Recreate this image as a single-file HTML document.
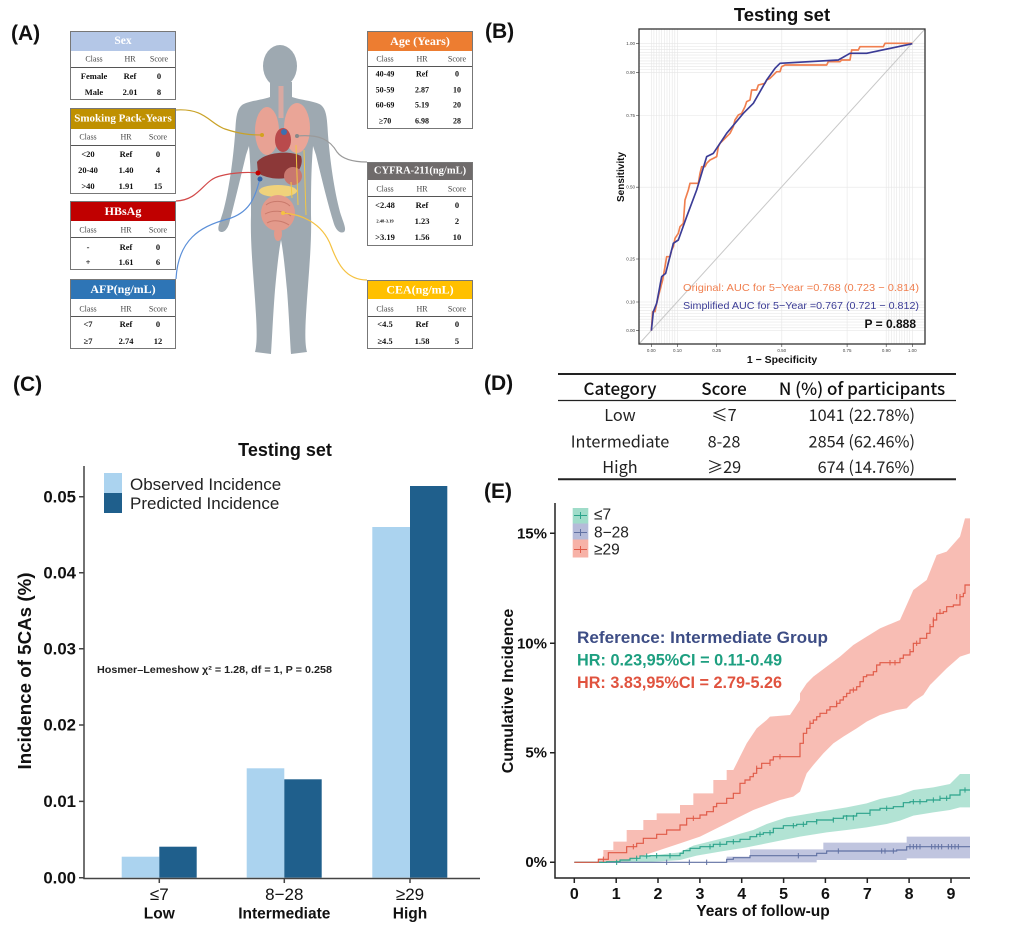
<!DOCTYPE html>
<html><head><meta charset="utf-8"><style>
html,body{margin:0;padding:0;background:#fff;}
svg{display:block;}
</style></head><body>
<svg width="1023" height="925" viewBox="0 0 1023 925" xmlns="http://www.w3.org/2000/svg" font-family="'Liberation Sans', Arial, sans-serif">
<rect width="1023" height="925" fill="#fff"/>

<!-- Panel labels -->
<g font-weight="bold" font-size="21" fill="#111">
<text x="11" y="40">(A)</text>
<text x="485" y="38">(B)</text>
<text x="13" y="391">(C)</text>
<text x="484" y="390">(D)</text>
<text x="484" y="498">(E)</text>
</g>

<!-- ============ PANEL A ============ -->
<!-- human silhouette -->
<g fill="#9ea9b1">
<ellipse cx="280" cy="66" rx="17" ry="21"/>
<path d="M270,82 L270,97 C262,100 248,101 242,105 C236,110 236,120 235,135 C233,160 229,190 223,212 C220,222 217,228 219,231 C223,234 227,230 229,224 C234,205 240,180 246,155 L249,146 C251,170 251,195 251,215 C250,245 254,280 256,315 C257,333 257,345 255,352 L271,354 C272,340 273,315 275,290 C277,268 279,250 281,240 C283,250 285,268 287,290 C289,315 290,340 291,354 L307,352 C305,345 305,333 306,315 C308,280 312,245 311,215 C311,195 311,170 313,146 L316,155 C322,180 328,205 334,224 C336,230 340,234 344,232 C347,229 343,222 340,212 C334,190 330,160 328,135 C327,120 327,110 321,105 C315,101 300,100 292,97 L292,82 Z"/>
</g>
<!-- organs -->
<rect x="278.5" y="86" width="5" height="32" fill="#d8a9a2"/>
<ellipse cx="267" cy="131" rx="12" ry="24" fill="#e8a294"/>
<ellipse cx="297" cy="128" rx="13" ry="25" fill="#eaa597"/>
<ellipse cx="283" cy="140" rx="8" ry="12" fill="#b94a4c"/>
<circle cx="284" cy="132" r="3" fill="#3d6fb0"/>
<path d="M257,162 C265,152 290,150 301,156 C304,165 298,176 286,178 C275,180 264,177 258,173 Z" fill="#8c3838"/>
<ellipse cx="293" cy="176" rx="9" ry="9" fill="#c9786f"/>
<ellipse cx="278" cy="191" rx="19" ry="6" fill="#f0d27b"/>
<ellipse cx="278" cy="213" rx="17" ry="18" fill="#e39a8b"/>
<path d="M266,205 C272,200 284,200 290,206 M265,214 C272,210 284,210 291,216 M267,223 C274,219 283,221 289,225" stroke="#c97a6c" stroke-width="1" fill="none"/>
<ellipse cx="278" cy="234" rx="4" ry="7" fill="#e39a8b"/>
<!-- internal yellow lines -->
<path d="M296,145 L298,205 M304,150 L306,215 M291,182 L292,198" stroke="#f2c744" stroke-width="1" fill="none"/>
<!-- connectors -->
<g fill="none" stroke-width="1.2">
<path d="M176,110 C205,108 210,124 225,129 C240,134 250,135 262,135" stroke="#c9a227"/>
<path d="M297,136 C320,134 330,140 337,152 C343,160 355,162 367,162" stroke="#9a9a9a"/>
<path d="M176,201 C200,200 203,180 220,176 C235,172 250,172 258,173" stroke="#d24a4a"/>
<path d="M176,279 C178,240 200,226 228,219 C248,213 255,200 260,178" stroke="#5b8fd8"/>
<path d="M367,280 C345,280 337,262 331,246 C322,222 300,214 283,213" stroke="#f5c242"/>
</g>
<circle cx="262" cy="135" r="2" fill="#d2a21e"/>
<circle cx="297" cy="136" r="2" fill="#888"/>
<circle cx="258" cy="173" r="2.5" fill="#c00000"/>
<circle cx="260" cy="179" r="2.5" fill="#2e5fa8"/>
<circle cx="283" cy="213" r="2" fill="#f5c242"/>

<!-- tables -->
<g font-family="'Liberation Serif', 'Times New Roman', serif" text-anchor="middle" dominant-baseline="central">
<!-- Sex -->
<rect x="70" y="31" width="106" height="20" fill="#b4c7e7"/>
<text x="123" y="41" font-size="11.5" font-weight="bold" fill="#fff">Sex</text>
<g font-size="8" fill="#444"><text x="94" y="59">Class</text><text x="130" y="59">HR</text><text x="159" y="59">Score</text></g>
<line x1="70" y1="67.5" x2="176" y2="67.5" stroke="#555" stroke-width="1"/>
<g font-size="8.5" font-weight="bold" fill="#111">
<text x="94" y="76">Female</text><text x="130" y="76">Ref</text><text x="159" y="76">0</text>
<text x="94" y="92">Male</text><text x="130" y="92">2.01</text><text x="159" y="92">8</text></g>
<rect x="70.5" y="31.5" width="105" height="68" fill="none" stroke="#777" stroke-width="1"/>

<!-- Smoking -->
<rect x="70" y="108" width="106" height="21" fill="#bf9000"/>
<text x="123" y="118.5" font-size="11" font-weight="bold" fill="#fff">Smoking Pack-Years</text>
<g font-size="8" fill="#444"><text x="88" y="137">Class</text><text x="126" y="137">HR</text><text x="158" y="137">Score</text></g>
<line x1="70" y1="145.5" x2="176" y2="145.5" stroke="#555" stroke-width="1"/>
<g font-size="8.5" font-weight="bold" fill="#111">
<text x="88" y="154">&lt;20</text><text x="126" y="154">Ref</text><text x="158" y="154">0</text>
<text x="88" y="170">20-40</text><text x="126" y="170">1.40</text><text x="158" y="170">4</text>
<text x="88" y="186">&gt;40</text><text x="126" y="186">1.91</text><text x="158" y="186">15</text></g>
<rect x="70.5" y="108.5" width="105" height="85" fill="none" stroke="#777" stroke-width="1"/>

<!-- HBsAg -->
<rect x="70" y="201" width="106" height="20" fill="#c00000"/>
<text x="123" y="211" font-size="12" font-weight="bold" fill="#fff">HBsAg</text>
<g font-size="8" fill="#444"><text x="88" y="230">Class</text><text x="126" y="230">HR</text><text x="158" y="230">Score</text></g>
<line x1="70" y1="237.5" x2="176" y2="237.5" stroke="#555" stroke-width="1"/>
<g font-size="8.5" font-weight="bold" fill="#111">
<text x="88" y="247">-</text><text x="126" y="247">Ref</text><text x="158" y="247">0</text>
<text x="88" y="262">+</text><text x="126" y="262">1.61</text><text x="158" y="262">6</text></g>
<rect x="70.5" y="201.5" width="105" height="68" fill="none" stroke="#777" stroke-width="1"/>

<!-- AFP -->
<rect x="70" y="279" width="106" height="20" fill="#2e75b6"/>
<text x="123" y="289" font-size="12" font-weight="bold" fill="#fff">AFP(ng/mL)</text>
<g font-size="8" fill="#444"><text x="88" y="309">Class</text><text x="126" y="309">HR</text><text x="158" y="309">Score</text></g>
<line x1="70" y1="316.5" x2="176" y2="316.5" stroke="#555" stroke-width="1"/>
<g font-size="8.5" font-weight="bold" fill="#111">
<text x="88" y="324">&lt;7</text><text x="126" y="324">Ref</text><text x="158" y="324">0</text>
<text x="88" y="341">≥7</text><text x="126" y="341">2.74</text><text x="158" y="341">12</text></g>
<rect x="70.5" y="279.5" width="105" height="69" fill="none" stroke="#777" stroke-width="1"/>

<!-- Age -->
<rect x="367" y="31" width="106" height="20" fill="#ed7d31"/>
<text x="420" y="41" font-size="12" font-weight="bold" fill="#fff">Age (Years)</text>
<g font-size="8" fill="#444"><text x="385" y="59">Class</text><text x="422" y="59">HR</text><text x="457" y="59">Score</text></g>
<line x1="367" y1="66.5" x2="473" y2="66.5" stroke="#555" stroke-width="1"/>
<g font-size="8" font-weight="bold" fill="#111">
<text x="385" y="74">40-49</text><text x="422" y="74">Ref</text><text x="457" y="74">0</text>
<text x="385" y="90">50-59</text><text x="422" y="90">2.87</text><text x="457" y="90">10</text>
<text x="385" y="105">60-69</text><text x="422" y="105">5.19</text><text x="457" y="105">20</text>
<text x="385" y="121">≥70</text><text x="422" y="121">6.98</text><text x="457" y="121">28</text></g>
<rect x="367.5" y="31.5" width="105" height="97" fill="none" stroke="#777" stroke-width="1"/>

<!-- CYFRA -->
<rect x="367" y="162" width="106" height="18" fill="#6f6b6b"/>
<text x="420" y="171" font-size="10.5" font-weight="bold" fill="#fff">CYFRA-211(ng/mL)</text>
<g font-size="8" fill="#444"><text x="385" y="189">Class</text><text x="422" y="189">HR</text><text x="457" y="189">Score</text></g>
<line x1="367" y1="196.5" x2="473" y2="196.5" stroke="#555" stroke-width="1"/>
<g font-size="8.5" font-weight="bold" fill="#111">
<text x="385" y="205">&lt;2.48</text><text x="422" y="205">Ref</text><text x="457" y="205">0</text>
<text x="385" y="221" font-size="4.5">2.48-3.19</text><text x="422" y="221">1.23</text><text x="457" y="221">2</text>
<text x="385" y="237">&gt;3.19</text><text x="422" y="237">1.56</text><text x="457" y="237">10</text></g>
<rect x="367.5" y="162.5" width="105" height="83" fill="none" stroke="#777" stroke-width="1"/>

<!-- CEA -->
<rect x="367" y="280" width="106" height="19" fill="#ffc000"/>
<text x="420" y="289.5" font-size="12" font-weight="bold" fill="#fff">CEA(ng/mL)</text>
<g font-size="8" fill="#444"><text x="385" y="309">Class</text><text x="422" y="309">HR</text><text x="457" y="309">Score</text></g>
<line x1="367" y1="316.5" x2="473" y2="316.5" stroke="#555" stroke-width="1"/>
<g font-size="8.5" font-weight="bold" fill="#111">
<text x="385" y="324">&lt;4.5</text><text x="422" y="324">Ref</text><text x="457" y="324">0</text>
<text x="385" y="341">≥4.5</text><text x="422" y="341">1.58</text><text x="457" y="341">5</text></g>
<rect x="367.5" y="280.5" width="105" height="68" fill="none" stroke="#777" stroke-width="1"/>
</g>

<!-- ============ PANEL B ============ -->
<text x="782" y="21" font-size="18.5" font-weight="bold" text-anchor="middle" fill="#111">Testing set</text>
<rect x="639" y="29" width="286" height="315" fill="#fff"/>
<path stroke="#e6e6e6" stroke-width="0.6" fill="none" d="
M651.3,29V344 M653.9,29V344 M656.5,29V344 M659.1,29V344 M661.7,29V344 M664.4,29V344 M667,29V344 M669.6,29V344 M672.2,29V344 M674.8,29V344 M677.4,29V344 M716.6,29V344 M781.8,29V344 M847.1,29V344
M886.2,29V344 M888.8,29V344 M891.5,29V344 M894.1,29V344 M896.7,29V344 M899.3,29V344 M901.9,29V344 M904.5,29V344 M907.1,29V344 M909.7,29V344 M912.3,29V344
M639,330.7H925 M639,327.8H925 M639,325H925 M639,322.1H925 M639,319.2H925 M639,316.4H925 M639,313.5H925 M639,310.6H925 M639,307.7H925 M639,304.9H925 M639,302H925 M639,259H925 M639,187.2H925 M639,115.5H925
M639,72.4H925 M639,69.5H925 M639,66.6H925 M639,63.8H925 M639,60.9H925 M639,58H925 M639,55.1H925 M639,52.3H925 M639,49.4H925 M639,46.5H925 M639,43.7H925"/>
<line x1="639" y1="344" x2="925" y2="29" stroke="#c8c8c8" stroke-width="1"/>
<g transform="translate(480,0) scale(0.333333)" fill="none" stroke-linejoin="round">
<path stroke="#f07f4f" stroke-width="5" d="M514,992 L518,935 L525,935 L530,910 L540,870 L548,840 L555,800 L560,770 L570,770 L575,750 L580,740 L585,715 L595,700 L600,680 L610,670 L615,600 L625,570 L630,550 L655,550 L660,520 L665,500 L675,500 L680,490 L690,480 L700,475 L710,470 L715,440 L720,430 L730,420 L740,410 L750,400 L760,380 L765,360 L775,345 L785,340 L795,320 L800,305 L810,300 L815,270 L830,270 L835,255 L855,250 L860,240 L870,235 L880,225 L890,215 L900,215 L905,200 L915,195 L1040,195 L1045,185 L1080,185 L1085,180 L1110,180 L1115,150 L1135,150 L1140,140 L1210,140 L1215,130 L1297,130"/>
<path stroke="#3b3c96" stroke-width="5" d="M514,992 L520,935 L530,910 L545,830 L557,820 L580,730 L595,720 L620,650 L650,570 L680,470 L700,460 L740,400 L790,340 L820,310 L860,240 L885,205 L900,190 L1075,180 L1110,160 L1160,160 L1297,131"/>
</g>
<rect x="639" y="29" width="286" height="315" fill="none" stroke="#333" stroke-width="1.3"/>
<g stroke="#333" stroke-width="0.6">
<path d="M636,330.7H639 M636,302H639 M636,259H639 M636,187.2H639 M636,115.5H639 M636,72.4H639 M636,43.7H639"/>
<path d="M651.3,344V347 M677.4,344V347 M716.6,344V347 M781.8,344V347 M847.1,344V347 M886.2,344V347 M912.3,344V347"/>
</g>
<g font-size="4.5" fill="#444" text-anchor="end" dominant-baseline="central">
<text x="635" y="330.7">0.00</text><text x="635" y="302">0.10</text><text x="635" y="259">0.25</text><text x="635" y="187.2">0.50</text><text x="635" y="115.5">0.75</text><text x="635" y="72.4">0.90</text><text x="635" y="43.7">1.00</text>
</g>
<g font-size="4.5" fill="#444" text-anchor="middle">
<text x="651.3" y="352">0.00</text><text x="677.4" y="352">0.10</text><text x="716.6" y="352">0.25</text><text x="781.8" y="352">0.50</text><text x="847.1" y="352">0.75</text><text x="886.2" y="352">0.90</text><text x="912.3" y="352">1.00</text>
</g>
<text x="782" y="363" font-size="10.5" font-weight="bold" text-anchor="middle" fill="#111">1 − Specificity</text>
<text transform="translate(624,177) rotate(-90)" font-size="10" font-weight="bold" text-anchor="middle" fill="#111">Sensitivity</text>
<text x="683" y="291" font-size="10.5" fill="#f07f4f" textLength="236" lengthAdjust="spacingAndGlyphs">Original: AUC for 5−Year =0.768 (0.723 − 0.814)</text>
<text x="683" y="309" font-size="10.5" fill="#3b3c96" textLength="236" lengthAdjust="spacingAndGlyphs">Simplified AUC for 5−Year =0.767 (0.721 − 0.812)</text>
<text x="916" y="328" font-size="12" font-weight="bold" text-anchor="end" fill="#111">P = 0.888</text>

<!-- ============ PANEL C ============ -->
<text x="285" y="456" font-size="18" font-weight="bold" text-anchor="middle" fill="#111">Testing set</text>
<rect x="104" y="473" width="18" height="20" fill="#abd3ef"/>
<rect x="104" y="493" width="18" height="20" fill="#1f5f8c"/>
<text x="130" y="490" font-size="17" fill="#222">Observed Incidence</text>
<text x="130" y="509" font-size="17" fill="#222">Predicted Incidence</text>
<!-- bars -->
<rect x="121.7" y="856.7" width="37.6" height="21" fill="#abd3ef"/>
<rect x="159.3" y="846.7" width="37.4" height="31" fill="#1f5f8c"/>
<rect x="246.7" y="768.3" width="37.6" height="109.4" fill="#abd3ef"/>
<rect x="284.3" y="779.3" width="37.4" height="98.4" fill="#1f5f8c"/>
<rect x="372.3" y="527" width="37.7" height="350.7" fill="#abd3ef"/>
<rect x="410" y="486" width="37.3" height="391.7" fill="#1f5f8c"/>
<!-- axes -->
<g stroke="#444" stroke-width="1.5" fill="none">
<path d="M84,466V878.5H480"/>
<path d="M79,496.7H84 M79,572.7H84 M79,648.7H84 M79,725H84 M79,801.4H84 M79,877.7H84"/>
<path d="M159.3,878V883 M284.3,878V883 M410,878V883"/>
</g>
<g font-size="16.8" font-weight="bold" text-anchor="end" fill="#111" dominant-baseline="central">
<text x="76" y="497">0.05</text><text x="76" y="573">0.04</text><text x="76" y="649">0.03</text><text x="76" y="725">0.02</text><text x="76" y="801.5">0.01</text><text x="76" y="878">0.00</text>
</g>
<text transform="translate(31,671) rotate(-90)" font-size="18" font-weight="bold" text-anchor="middle" fill="#111" textLength="197" lengthAdjust="spacingAndGlyphs">Incidence of 5CAs (%)</text>
<text x="97" y="673" font-size="10.5" font-weight="bold" fill="#222" textLength="235" lengthAdjust="spacingAndGlyphs">Hosmer–Lemeshow χ² = 1.28, df = 1, P = 0.258</text>
<g text-anchor="middle" fill="#111">
<text x="159.3" y="900" font-size="17">≤7</text>
<text x="284.3" y="900" font-size="17">8−28</text>
<text x="410" y="900" font-size="17">≥29</text>
<text x="159.3" y="918.5" font-size="15.5" font-weight="bold">Low</text>
<text x="284.3" y="918.5" font-size="15.5" font-weight="bold">Intermediate</text>
<text x="410" y="918.5" font-size="15.5" font-weight="bold">High</text>
</g>

<!-- ============ PANEL D ============ -->
<line x1="558" y1="374" x2="956" y2="374" stroke="#222" stroke-width="2"/>
<line x1="558" y1="400.5" x2="956" y2="400.5" stroke="#222" stroke-width="1.3"/>
<line x1="558" y1="479.3" x2="956" y2="479.3" stroke="#222" stroke-width="2"/>
<g font-family="'Noto Sans CJK SC', 'Liberation Sans', sans-serif" fill="#111" dominant-baseline="central">
<g font-size="17" font-weight="500" text-anchor="middle">
<text x="620" y="387.5">Category</text>
<text x="724" y="387.5">Score</text>
<text x="862" y="387.5">N (%) of participants</text>
</g>
<g font-size="16.3" fill="#222" text-anchor="middle">
<text x="620" y="414">Low</text>
<text x="620" y="440.5">Intermediate</text>
<text x="620" y="466">High</text>
<text x="724" y="414">≤7</text>
<text x="724" y="440.5">8-28</text>
<text x="724" y="466">≥29</text>
</g>
<g font-size="16.3" fill="#222" text-anchor="end">
<text x="915" y="414">1041 (22.78%)</text>
<text x="915" y="440.5">2854 (62.46%)</text>
<text x="915" y="466">674 (14.76%)</text>
</g>
</g>

<!-- ============ PANEL E ============ -->
<g transform="translate(480,480) scale(0.333333)">
<polygon fill="#f7b2a7" fill-opacity="0.85" points="355,1147 355,1135 370,1135 370,1110 400,1110 400,1085 440,1085 440,1050 490,1050 490,1020 530,1020 530,1000 600,1000 600,975 640,975 640,940 700,940 700,900 740,900 740,870 760,870 780,830 800,790 830,745 860,720 870,710 930,705 960,660 960,640 980,610 1000,590 1040,560 1080,530 1120,495 1160,470 1200,445 1260,420 1300,330 1340,300 1370,225 1400,215 1440,170 1455,115 1470,115 1470,520 1440,530 1400,565 1370,595 1350,615 1330,645 1300,665 1280,685 1250,690 1200,705 1160,725 1130,745 1090,770 1060,790 1030,820 1000,855 980,880 960,935 940,950 900,960 860,975 820,990 780,1010 740,1030 700,1050 660,1070 600,1090 540,1110 480,1130 440,1147"/>
<polygon fill="#9fdcc9" fill-opacity="0.8" points="380,1147 450,1137 510,1127 600,1117 640,1097 700,1082 760,1067 820,1050 860,1032 920,1012 980,1002 1040,992 1100,982 1160,970 1200,957 1260,945 1300,930 1360,922 1410,912 1440,882 1470,882 1470,982 1440,982 1410,990 1360,997 1300,1007 1260,1022 1220,1032 1160,1042 1100,1050 1040,1057 960,1070 900,1082 850,1092 800,1102 720,1115 650,1127 600,1140 500,1147"/>
<polygon fill="#b5bbd9" fill-opacity="0.85" points="740,1147 740,1130 810,1130 810,1108 1030,1108 1030,1088 1280,1088 1280,1070 1470,1070 1470,1135 1280,1135 1280,1140 1010,1140 1010,1147"/>
<g fill="none" stroke-width="3.5">
<path stroke="#6171a3" d="M283,1147 H740 V1138 H760 V1133 H810 V1127 H1010 V1120 H1040 V1113 H1250 V1110 H1280 V1100 H1470"/>
<path stroke="#2ba38a" d="M283,1147 H380 V1145 H420 V1140 H450 V1135 H480 V1128 H510 V1127 H600 V1120 H610 V1112 H630 V1105 H660 V1100 H700 V1093 H740 V1085 H780 V1078 H810 V1070 H830 V1063 H850 V1058 H880 V1045 H910 V1037 H950 V1033 H980 V1025 H1010 V1020 H1060 V1015 H1090 V1008 H1130 V1000 H1170 V990 H1200 V985 H1240 V980 H1270 V968 H1290 V965 H1340 V960 H1380 V955 H1410 V945 H1440 V930 H1470"/>
<path stroke="#e05a47" d="M283,1147 H355 V1138 H385 V1118 H440 V1100 H470 V1090 H490 V1075 H530 V1063 H560 V1050 H600 V1035 H620 V1015 H660 V1005 H680 V995 H700 V980 H710 V970 H740 V955 H760 V940 H780 V910 H795 V900 H810 V890 H820 V880 H830 V865 H845 V850 H870 V840 H880 V830 H960 V790 H970 V760 H980 V745 H990 V730 H1000 V720 H1010 V710 H1020 V700 H1040 V690 H1050 V680 H1070 V670 H1080 V660 H1090 V650 H1100 V640 H1110 V630 H1130 V620 H1140 V605 H1150 V590 H1160 V585 H1180 V575 H1190 V555 H1200 V548 H1260 V535 H1270 V525 H1290 V515 H1300 V490 H1320 V475 H1340 V460 H1350 V440 H1360 V420 H1370 V400 H1390 V395 H1400 V380 H1420 V375 H1440 V350 H1450 V340 H1455 V315 H1470"/>
</g>
<!-- censor marks -->
<g stroke-width="3">
<path stroke="#6171a3" d="M560,1139V1155 M628,1139V1155 M680,1139V1155 M955,1119V1135 M1075,1105V1121 M1205,1105V1121 M1215,1105V1121 M1240,1105V1121 M1290,1092V1108 M1300,1092V1108 M1310,1092V1108 M1320,1092V1108 M1355,1092V1108 M1365,1092V1108 M1375,1092V1108 M1385,1092V1108 M1405,1092V1108 M1415,1092V1108 M1425,1092V1108 M1435,1092V1108"/>
<path stroke="#2ba38a" d="M410,1139V1155 M470,1127V1143 M500,1120V1136 M530,1119V1135 M570,1119V1135 M690,1092V1108 M720,1085V1101 M760,1077V1093 M840,1055V1071 M870,1050V1066 M940,1029V1045 M970,1025V1041 M1010,1017V1033 M1060,1012V1028 M1100,1005V1021 M1120,1005V1021 M1170,992V1008 M1220,977V993 M1300,957V973 M1320,957V973 M1360,952V968 M1380,947V963 M1400,947V963 M1455,922V938"/>
<path stroke="#e05a47" d="M370,1130V1146 M460,1092V1108 M640,1007V1023 M830,857V873 M870,842V858 M900,822V838 M990,722V738 M1070,662V678 M1120,622V638 M1230,540V556 M1245,540V556 M1290,507V523 M1310,482V498 M1350,432V448 M1360,412V428 M1380,387V403 M1430,342V358 M1440,342V358"/>
</g>
</g>
<!-- legend -->
<rect x="572.7" y="508" width="15.6" height="15.5" fill="#9fdcc9"/>
<rect x="572.7" y="523.5" width="15.6" height="16" fill="#b5bbd9"/>
<rect x="572.7" y="539.5" width="15.6" height="18" fill="#f7b2a7"/>
<path d="M574,515.5H587 M580.5,512V519" stroke="#2ba38a" stroke-width="1"/>
<path d="M574,532.5H587 M580.5,529V536" stroke="#6171a3" stroke-width="1"/>
<path d="M574,549.5H587 M580.5,546V553" stroke="#e05a47" stroke-width="1"/>
<g font-size="15.5" fill="#222" dominant-baseline="central">
<text x="594" y="515">≤7</text>
<text x="594" y="533">8−28</text>
<text x="594" y="550">≥29</text>
</g>
<!-- annotations -->
<text x="577" y="643" font-size="17" font-weight="bold" fill="#3d4d85" textLength="251" lengthAdjust="spacingAndGlyphs">Reference: Intermediate Group</text>
<text x="577" y="665.5" font-size="17" font-weight="bold" fill="#1d9f80" textLength="205" lengthAdjust="spacingAndGlyphs">HR: 0.23,95%CI = 0.11-0.49</text>
<text x="577" y="688" font-size="17" font-weight="bold" fill="#e0533f" textLength="205" lengthAdjust="spacingAndGlyphs">HR: 3.83,95%CI = 2.79-5.26</text>
<!-- axes -->
<g stroke="#222" stroke-width="1.5" fill="none">
<path d="M555,503V878H970"/>
<path d="M550,533.3H555 M550,643.3H555 M550,752.7H555 M550,862.3H555"/>
<path d="M574.3,878V883 M616.2,878V883 M658,878V883 M699.9,878V883 M741.7,878V883 M783.6,878V883 M825.4,878V883 M867.3,878V883 M909.1,878V883 M951,878V883"/>
</g>
<g font-size="15" font-weight="bold" fill="#111" text-anchor="end" dominant-baseline="central">
<text x="547" y="534">15%</text><text x="547" y="644">10%</text><text x="547" y="753">5%</text><text x="547" y="862.5">0%</text>
</g>
<g font-size="16" font-weight="bold" fill="#111" text-anchor="middle">
<text x="574.3" y="899">0</text><text x="616.2" y="899">1</text><text x="658" y="899">2</text><text x="699.9" y="899">3</text><text x="741.7" y="899">4</text><text x="783.6" y="899">5</text><text x="825.4" y="899">6</text><text x="867.3" y="899">7</text><text x="909.1" y="899">8</text><text x="951" y="899">9</text>
</g>
<text x="763" y="916" font-size="15.5" font-weight="bold" fill="#111" text-anchor="middle">Years of follow-up</text>
<text transform="translate(513,691) rotate(-90)" font-size="16" font-weight="bold" fill="#111" text-anchor="middle">Cumulative Incidence</text>
</svg>
</body></html>
